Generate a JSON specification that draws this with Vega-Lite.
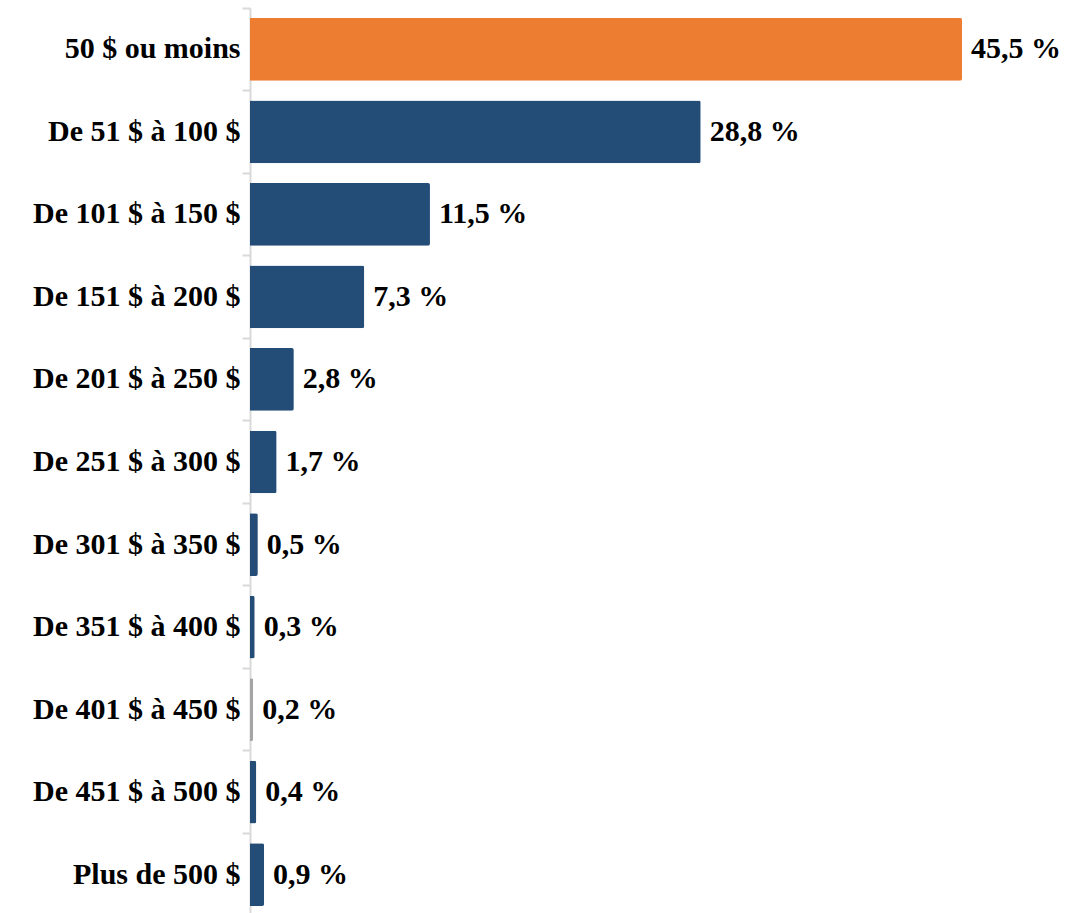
{
  "$schema": "https://vega.github.io/schema/vega-lite/v6.json",
  "width": 838,
  "height": 908,
  "autosize": "none",
  "padding": {"left": 250, "top": 8, "right": 0, "bottom": 0},
  "background": "white",
  "config": {"view": {"stroke": null}},
  "data": {
    "values": [
      {"cat": "50 $ ou moins", "pct": 45.5, "label": "45,5 %", "grp": "a"},
      {"cat": "De 51 $ à 100 $", "pct": 28.8, "label": "28,8 %", "grp": "b"},
      {"cat": "De 101 $ à 150 $", "pct": 11.5, "label": "11,5 %", "grp": "b"},
      {"cat": "De 151 $ à 200 $", "pct": 7.3, "label": "7,3 %", "grp": "b"},
      {"cat": "De 201 $ à 250 $", "pct": 2.8, "label": "2,8 %", "grp": "b"},
      {"cat": "De 251 $ à 300 $", "pct": 1.7, "label": "1,7 %", "grp": "b"},
      {"cat": "De 301 $ à 350 $", "pct": 0.5, "label": "0,5 %", "grp": "b"},
      {"cat": "De 351 $ à 400 $", "pct": 0.3, "label": "0,3 %", "grp": "b"},
      {"cat": "De 401 $ à 450 $", "pct": 0.2, "label": "0,2 %", "grp": "c"},
      {"cat": "De 451 $ à 500 $", "pct": 0.4, "label": "0,4 %", "grp": "b"},
      {"cat": "Plus de 500 $", "pct": 0.9, "label": "0,9 %", "grp": "b"}
    ]
  },
  "encoding": {
    "y": {
      "field": "cat",
      "type": "nominal",
      "sort": null,
      "scale": {"paddingInner": 0, "paddingOuter": 0},
      "axis": {
        "title": null,
        "domainColor": "#D9D9D9",
        "domainWidth": 2,
        "tickColor": "#D9D9D9",
        "tickWidth": 2,
        "tickSize": 8,
        "bandPosition": 0,
        "labelFont": "Liberation Serif",
        "labelFontWeight": "bold",
        "labelFontSize": 30,
        "labelColor": "#000000",
        "labelPadding": 2,
        "labelBound": false,
        "labelLimit": 300
      }
    },
    "x": {
      "field": "pct",
      "type": "quantitative",
      "scale": {"domain": [0, 53.55], "nice": false, "zero": true},
      "axis": null
    }
  },
  "layer": [
    {
      "mark": {"type": "bar", "height": {"band": 0.76}, "cornerRadiusEnd": 2},
      "encoding": {
        "color": {
          "field": "grp",
          "type": "nominal",
          "scale": {"domain": ["a", "b", "c"], "range": ["#ED7D31", "#234C77", "#A5A5A5"]},
          "legend": null
        }
      }
    },
    {
      "mark": {"type": "text", "align": "left", "baseline": "middle", "dx": 9, "font": "Liberation Serif", "fontWeight": "bold", "fontSize": 30, "color": "#000000"},
      "encoding": {"text": {"field": "label"}}
    }
  ]
}
